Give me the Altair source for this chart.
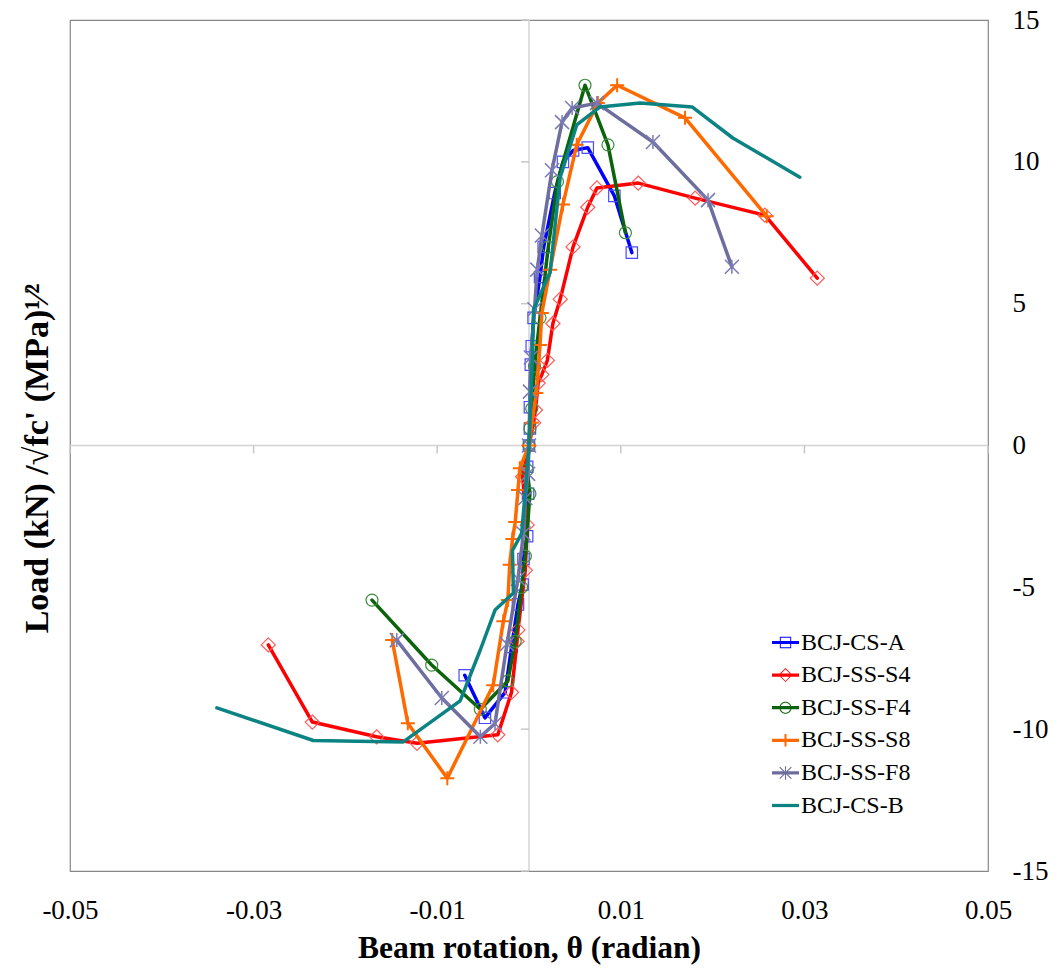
import altair as alt
import pandas as pd

# ---------------- data ----------------
SERIES = ["BCJ-CS-A", "BCJ-SS-S4", "BCJ-SS-F4", "BCJ-SS-S8", "BCJ-SS-F8", "BCJ-CS-B"]

CSA_X = [-0.0070, -0.0048, -0.0026, -0.0019, -0.0012, -0.0007, -0.0006, -0.0002, -0.0001, -0.0002, 0.0,
         0.0001, 0.0001, 0.0002, 0.0003, 0.0005, 0.0012, 0.0016, 0.0028, 0.0037, 0.0048, 0.0064, 0.0093, 0.0112]
CSA_Y = [-8.1, -9.6, -8.7, -7.1, -5.6, -4.9, -4.0, -3.2, -1.7, -0.75, 0.0,
         0.6, 1.35, 2.85, 3.5, 4.5, 5.94, 7.0, 8.9, 10.0, 10.4, 10.5, 8.8, 6.8]

S4_X = [-0.0284, -0.0236, -0.0166, -0.0122, -0.0034, -0.0019, -0.0013, -0.0012, -0.0004, -0.0002, -0.0007, 0.0,
        0.0005, 0.0007, 0.0010, 0.0014, 0.0020, 0.0026, 0.0034, 0.0048, 0.0064, 0.0074, 0.0119, 0.0181, 0.0257, 0.0314]
S4_Y = [-7.03, -9.75, -10.27, -10.5, -10.2, -8.7, -6.9, -6.5, -4.4, -2.8, -1.1, 0.0,
        0.8, 1.25, 2.2, 2.5, 3.0, 4.3, 5.16, 7.0, 8.4, 9.08, 9.25, 8.72, 8.12, 5.9]

F4_X = [-0.0171, -0.0106, -0.0053, -0.0023, -0.0015, -0.0008, -0.0004, 0.0001, -0.0002, 0.0,
        0.0001, 0.0003, 0.0006, 0.0012, 0.0021, 0.0031, 0.0061, 0.0086, 0.0105]
F4_Y = [-5.45, -7.74, -9.3, -8.3, -6.9, -5.0, -3.9, -1.7, -0.86, 0.0,
        0.6, 1.3, 2.8, 4.5, 7.0, 9.3, 12.7, 10.6, 7.5]

S8_X = [-0.0149, -0.0132, -0.0089, -0.0039, -0.0028, -0.0023, -0.0021, -0.0018, -0.0015, -0.0012, -0.0010, 0.0,
        0.0003, 0.0008, 0.0012, 0.0014, 0.0023, 0.0037, 0.0052, 0.0075, 0.0096, 0.0170, 0.0259]
S8_Y = [-6.86, -9.79, -11.73, -8.45, -6.2, -5.45, -4.2, -3.3, -2.7, -1.57, -0.8, 0.0,
        0.8, 1.85, 3.54, 4.67, 6.2, 8.5, 10.6, 12.07, 12.7, 11.55, 8.08]

F8_X = [-0.0144, -0.0095, -0.0053, -0.0037, -0.0024, -0.0012, -0.0006, -0.0004, -0.0001, 0.0,
        0.0001, 0.0002, 0.0006, 0.0009, 0.0014, 0.0025, 0.0036, 0.0047, 0.0074, 0.0135, 0.0195, 0.0221]
F8_Y = [-6.86, -8.9, -10.27, -9.8, -7.0, -4.7, -3.1, -1.85, -1.0, 0.0,
        1.9, 3.1, 4.8, 6.2, 7.4, 9.7, 11.4, 11.9, 12.07, 10.7, 8.65, 6.3]

CSB_X = [-0.0340, -0.0235, -0.0137, -0.0075, -0.0053, -0.0037, -0.0017, -0.0018, -0.0008, -0.0004, 0.0,
         0.0002, 0.0004, 0.0005, 0.0023, 0.0034, 0.0052, 0.0077, 0.0121, 0.0178, 0.0222, 0.0295]
CSB_Y = [-9.25, -10.4, -10.45, -9.0, -7.2, -5.8, -5.2, -3.7, -3.1, -1.6, 0.0,
         1.6, 3.4, 4.8, 6.1, 9.46, 11.3, 11.93, 12.07, 11.93, 10.84, 9.46]

X_TICKS = [-0.05, -0.03, -0.01, 0.01, 0.03, 0.05]
Y_TICKS = [-15, -10, -5, 0, 5, 10, 15]
Y_ZERO_TICKS = [-15, -10, -5, 5, 10, 15]

SERIES_XY = [(CSA_X, CSA_Y), (S4_X, S4_Y), (F4_X, F4_Y), (S8_X, S8_Y), (F8_X, F8_Y), (CSB_X, CSB_Y)]

# ---------------- styles ----------------
LINE_COLORS = ["#0000FF", "#FF0000", "#0B640B", "#FF6A00", "#6E6E9E", "#0B8383"]
MARK_COLORS = ["#4A4AFF", "#FF5A5A", "#3C8C3C", "#FF6A00", "#7A7AB4", None]
MARK_SHAPES = ["M-1,-1H1V1H-1Z", "M0,-1L1,0L0,1L-1,0Z", "circle", "M-1,0H1M0,-1V1",
               "M-1,-1L1,1M-1,1L1,-1M0,-1V1", None]
MARK_SIZES = [130, 200, 144, 196, 196, 0]
MARK_SW = [1.2, 1.2, 1.2, 2.0, 1.5, 0]

LINE = "M-1,-0.12H1V0.12H-1Z"
LEG_PATHS = [
    LINE + "M-0.42,-0.42H0.42V0.42H-0.42Z" + "M-0.35,-0.35V0.35H0.35V-0.35Z",
    LINE + "M0,-0.52L0.52,0L0,0.52L-0.52,0Z" + "M0,-0.43L-0.43,0L0,0.43L0.43,0Z",
    LINE + "M0.45,0A0.45,0.45,0,1,1,-0.45,0A0.45,0.45,0,1,1,0.45,0Z"
         + "M0.37,0A0.37,0.37,0,1,0,-0.37,0A0.37,0.37,0,1,0,0.37,0Z",
    LINE + "M-0.075,-0.46H0.075V0.46H-0.075Z",
    LINE + "M-0.46,-0.4L-0.4,-0.46L0.46,0.4L0.4,0.46Z" + "M-0.46,0.4L0.4,-0.46L0.46,-0.4L-0.4,0.46Z"
         + "M-0.04,-0.5H0.04V0.5H-0.04Z",
    LINE,
]

FONT = "Liberation Serif"

xscale = alt.Scale(domain=[-0.05, 0.05], nice=False, zero=False)
yscale = alt.Scale(domain=[-15, 15], nice=False, zero=False)

XAXIS = alt.Axis(
    values=X_TICKS,
    labelExpr="datum.value < 0 ? '-' + format(-datum.value, '.2f') : format(datum.value, '.2f')",
    ticks=False, tickSize=0, domain=False, grid=False, labelFlush=False,
    labelFont=FONT, labelFontSize=27, labelColor="black", labelPadding=26,
    title="Beam rotation, θ (radian)", titleFont=FONT, titleFontSize=31.5, titleFontWeight="bold",
    titleColor="black", titleBaseline="alphabetic", titleY=86,
)
YAXIS = alt.Axis(
    orient="right", values=Y_TICKS,
    labelExpr="datum.value < 0 ? '-' + format(-datum.value, 'd') : format(datum.value, 'd')",
    ticks=False, tickSize=0, domain=False, grid=False, labelFlush=False,
    labelFont=FONT, labelFontSize=27, labelColor="black", labelPadding=24,
    labelAlign="left", labelBaseline="middle",
    title="Load (kN) /√fc' (MPa)¹⁄²", titleFont=FONT, titleFontSize=34, titleFontWeight="bold",
    titleColor="black", titleAngle=270, titleX=-951, titleY=438,
    titleAlign="center", titleBaseline="middle",
)


def X(field="x"):
    return alt.X(f"{field}:Q", scale=xscale, axis=XAXIS)


def Y(field="y"):
    return alt.Y(f"{field}:Q", scale=yscale, axis=YAXIS)


layers = []

# zero lines
hz = pd.DataFrame({"x": [X_TICKS[0]], "x2": [X_TICKS[-1]], "y": [0.0]})
vz = pd.DataFrame({"x": [0.0], "y": [Y_TICKS[0]], "y2": [Y_TICKS[-1]]})
layers.append(alt.Chart(hz).mark_rule(color="#D4D4D4", strokeWidth=1.5).encode(
    x=X(), x2="x2:Q", y=Y()))
layers.append(alt.Chart(vz).mark_rule(color="#D4D4D4", strokeWidth=1.5).encode(
    x=X(), y=Y(), y2="y2:Q"))

# small tick marks on zero lines
xt = pd.DataFrame({"x": X_TICKS, "y": [0.0] * len(X_TICKS)})
yt = pd.DataFrame({"x": [0.0] * len(Y_ZERO_TICKS), "y": Y_ZERO_TICKS})
layers.append(alt.Chart(xt).mark_rule(color="#C8C8C8", strokeWidth=1.5, y2Offset=8).encode(
    x=X(), y=Y(), y2="y:Q"))
layers.append(alt.Chart(yt).mark_rule(color="#C8C8C8", strokeWidth=1.5, x2Offset=-8).encode(
    x=X(), x2="x:Q", y=Y()))

frames = []
for i, (name, (sx, sy)) in enumerate(zip(SERIES, SERIES_XY)):
    df = pd.DataFrame({"series": name, "x": sx, "y": sy, "idx": list(range(len(sx)))})
    frames.append(df)
    layers.append(alt.Chart(df).mark_line(
        color=LINE_COLORS[i], strokeWidth=3.5, strokeJoin="round", strokeCap="round"
    ).encode(x=X(), y=Y(), order="idx:Q"))
    if MARK_SHAPES[i] is not None:
        layers.append(alt.Chart(df).mark_point(
            shape=MARK_SHAPES[i], filled=False, size=MARK_SIZES[i], color=MARK_COLORS[i],
            strokeWidth=MARK_SW[i], opacity=1
        ).encode(x=X(), y=Y()))

alldf = pd.concat(frames, ignore_index=True)
LEG = alt.Legend(
    orient="none", legendX=702, legendY=609, title=None, padding=0,
    labelFont=FONT, labelFontSize=24, labelColor="black", labelOffset=2,
    symbolSize=729, symbolOpacity=1, symbolStrokeWidth=0, rowPadding=6.6,
    labelLimit=300,
)
layers.append(alt.Chart(alldf).mark_point(filled=True, opacity=0, size=10).encode(
    x=X(), y=Y(),
    color=alt.Color("series:N", scale=alt.Scale(domain=SERIES, range=LINE_COLORS), legend=LEG),
    shape=alt.Shape("series:N", scale=alt.Scale(domain=SERIES, range=LEG_PATHS), legend=LEG),
))

chart = alt.layer(*layers).properties(
    width=918, height=851,
    padding={"left": 70, "top": 20, "right": 70, "bottom": 98},
    autosize=alt.AutoSizeParams(type="none"),
    background="white",
).configure_view(stroke="#888888", strokeWidth=1.2)

chart.save("out.html", embed_options={"renderer": "svg", "actions": False})
